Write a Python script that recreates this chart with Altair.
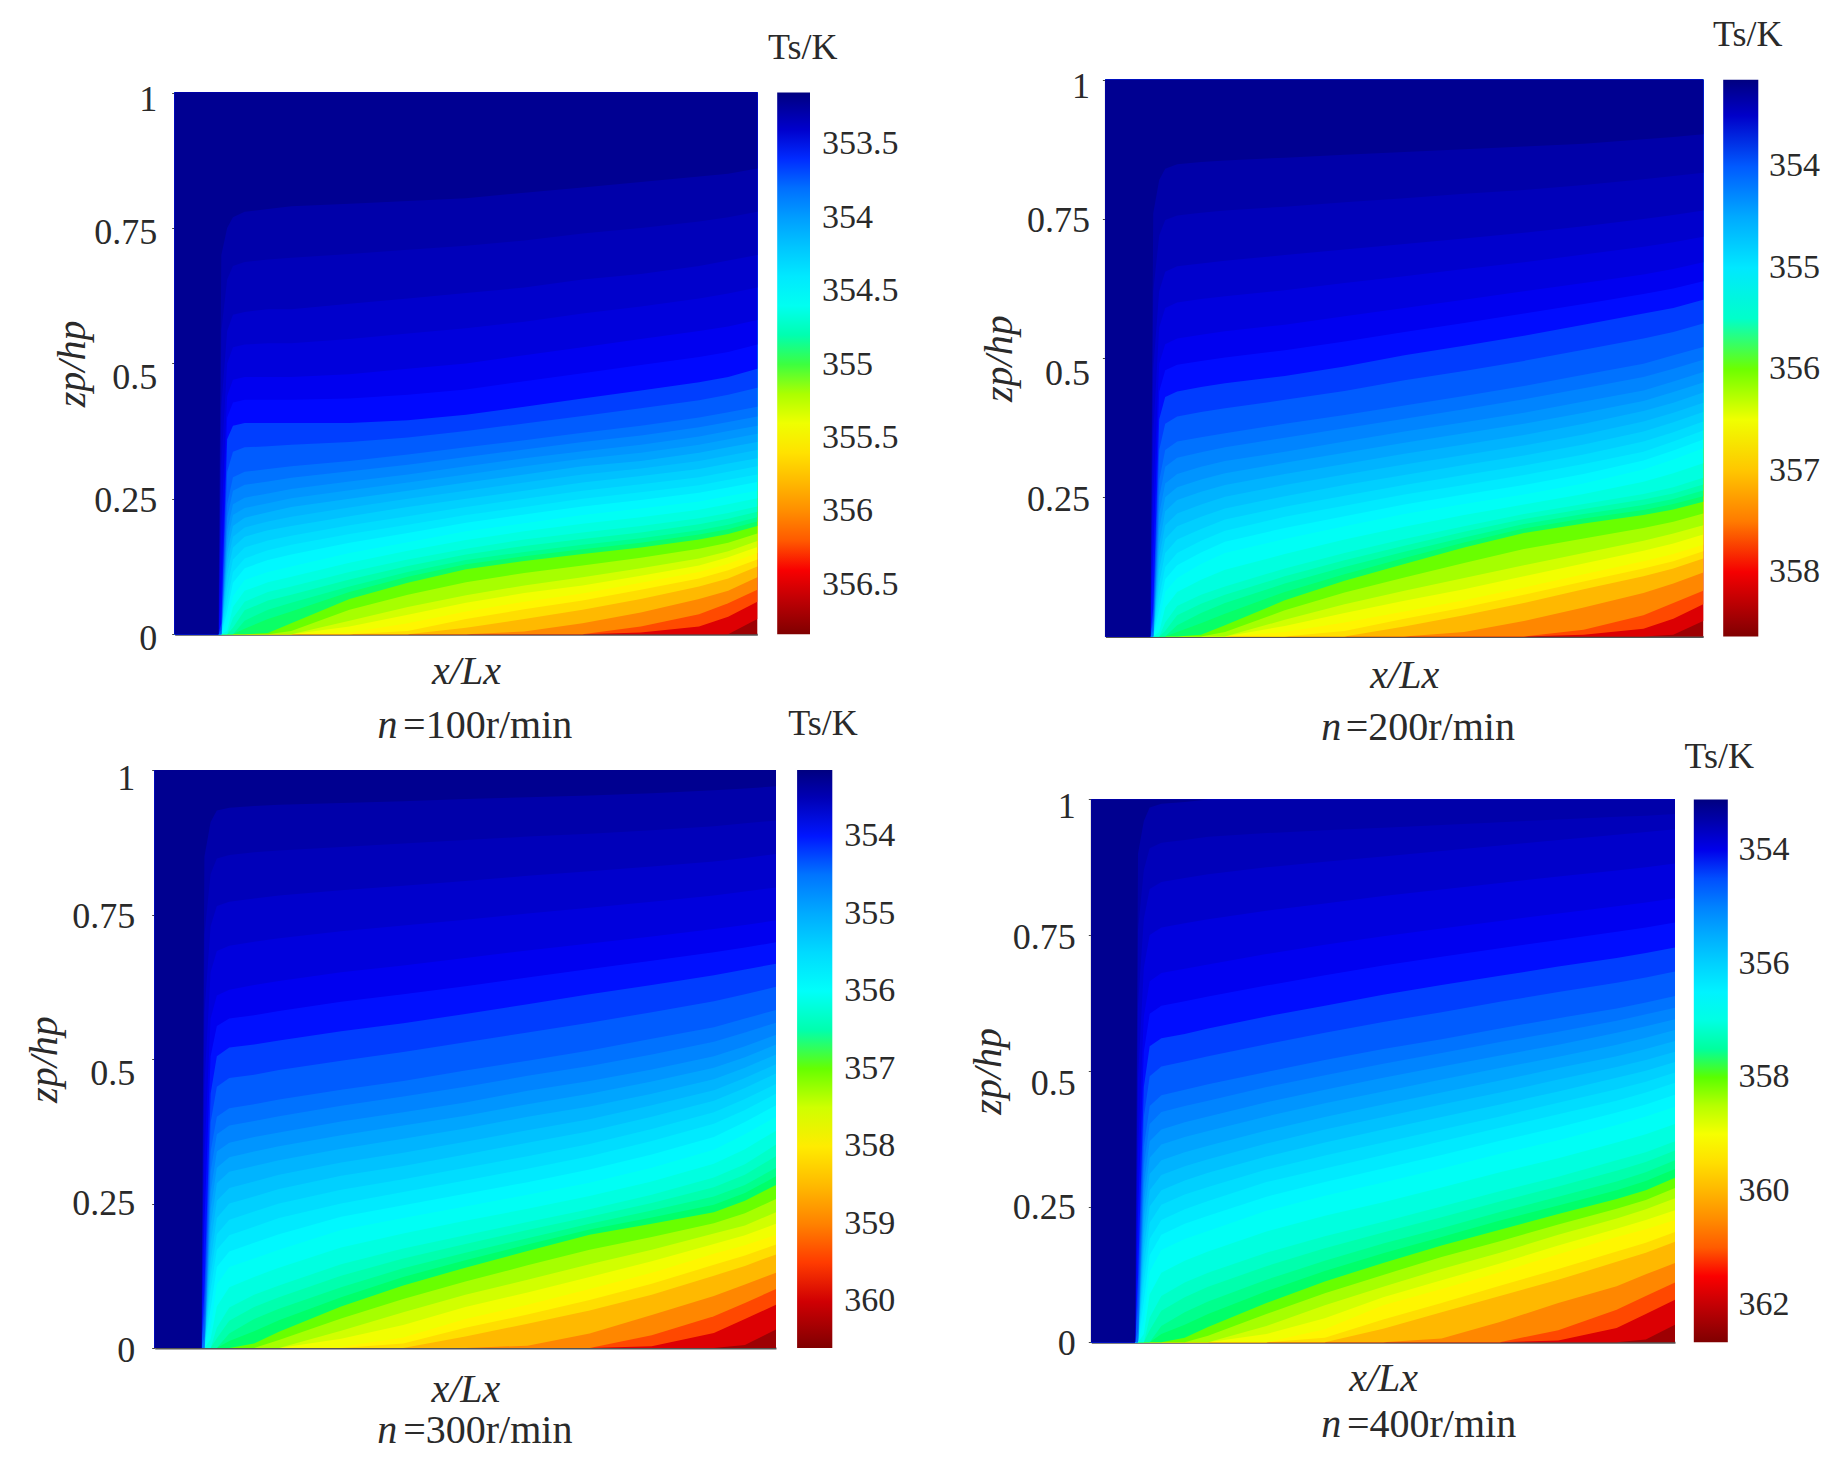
import altair as alt
import pandas as pd

FONT = "Liberation Serif"
X_READ = [0.08, 0.09, 0.10, 0.12, 0.16, 0.2, 0.3, 0.4, 0.5, 0.6, 0.7, 0.8, 0.9, 0.95, 1.0]
X_STRIP = [0.0, 0.075]
STOP_FRACTIONS = [0, 0.11, 0.375, 0.49, 0.51, 0.625, 0.875, 1]
STOP_COLORS = ["#000080", "#0000ff", "#00ffff", "#00ff6a", "#55ff00", "#ffff00", "#ff0000", "#800000"]

# Band temperatures hottest to coldest; Z tables: height (per mille of zp/hp) of the lower edge of
# each band after the first, read from the picture along X_READ.
P1_T = [356.72,356.49,356.25,356.02,355.80,355.62,355.50,355.41,355.31,355.19,355.06,354.96,354.88,354.81,354.73,354.66,354.58,354.49,354.40,354.33,354.26,354.18,354.11,354.03,353.96,353.89,353.81,353.73,353.64,353.56,353.51,353.45,353.40,353.34,353.29,353.21]
P1_Z = [
 [0,0,0,0,0,0,0,0,0,0,0,0,0,0,28],
 [0,0,0,0,0,0,0,0,0,0,0,3,14,32,60],
 [0,0,0,0,0,0,0,0,0,0,0,14,37,57,82],
 [0,0,0,0,0,0,0,0,0,5,20,40,65,80,105],
 [0,0,0,0,0,0,0,0,12,28,45,65,88,103,125],
 [0,0,0,0,0,0,0,6,28,46,62,82,103,118,138],
 [0,0,0,0,0,0,3,20,42,60,75,95,115,130,150],
 [0,0,0,0,0,0,14,36,58,76,90,108,127,142,161],
 [0,0,0,0,0,0,25,50,72,90,105,122,140,153,172],
 [0,0,0,0,0,6,45,73,96,113,127,141,158,169,186],
 [0,0,0,0,2,20,65,95,120,135,148,160,175,185,200],
 [0,0,0,10,28,42,78,106,129,144,157,169,184,194,208],
 [0,0,0,25,45,58,88,115,137,152,165,177,192,202,216],
 [0,0,12,44,62,73,101,126,147,163,176,188,203,213,226],
 [0,0,30,60,78,88,115,138,158,175,188,200,214,224,236],
 [0,6,50,80,96,106,132,154,174,190,204,216,230,240,251],
 [0,20,70,100,115,125,150,170,190,205,220,232,245,255,265],
 [0,42,95,122,137,147,169,187,206,221,236,248,261,271,281],
 [0,60,115,140,155,165,185,202,220,235,250,262,275,285,295],
 [0,85,138,160,173,182,201,218,235,250,265,277,290,300,310],
 [0,110,160,180,192,200,218,235,250,265,280,292,305,315,325],
 [0,130,180,197,208,217,234,250,265,280,295,306,320,330,340],
 [0,150,200,215,225,235,250,265,280,295,310,320,335,345,355],
 [0,170,220,233,242,251,266,280,295,310,324,335,350,360,370],
 [0,190,240,252,260,268,282,295,310,325,338,350,365,375,385],
 [0,215,265,276,282,289,301,313,327,341,355,367,382,392,402],
 [0,240,290,300,305,310,320,332,345,358,372,385,400,410,420],
 [8,300,337,345,347,350,355,363,375,389,403,417,432,442,455],
 [20,360,385,390,390,390,390,395,405,420,435,450,465,475,490],
 [90,400,428,433,433,433,435,442,452,467,482,497,512,521,535],
 [200,440,470,475,475,475,480,490,500,515,530,545,560,568,580],
 [310,500,530,535,537,537,545,555,565,577,592,605,620,629,640],
 [420,560,590,595,600,600,610,620,630,640,655,665,680,690,700],
 [560,655,680,687,692,695,702,710,717,727,740,750,762,770,780],
 [700,750,770,780,785,790,795,800,805,815,825,835,845,850,860],
]
P2_T = [358.47,358.13,357.77,357.43,357.10,356.82,356.65,356.51,356.36,356.18,355.99,355.84,355.73,355.62,355.51,355.40,355.27,355.14,355.01,354.90,354.79,354.68,354.57,354.46,354.35,354.24,354.13,354.01,353.87,353.76,353.68,353.60,353.52,353.43,353.35,353.23]
P2_Z = [
 [0,0,0,0,0,0,0,0,0,0,0,0,0,3,28],
 [0,0,0,0,0,0,0,0,0,0,0,3,14,32,58],
 [0,0,0,0,0,0,0,0,0,0,0,12,38,60,82],
 [0,0,0,0,0,0,0,0,0,8,28,52,78,95,115],
 [0,0,0,0,0,0,0,0,18,38,60,85,108,122,140],
 [0,0,0,0,0,0,0,10,32,52,75,99,122,135,153],
 [0,0,0,0,0,0,8,25,45,65,88,112,135,148,165],
 [0,0,0,0,0,0,19,42,64,85,108,131,154,167,183],
 [0,0,0,0,0,0,30,58,82,105,128,150,172,185,200],
 [0,0,0,0,0,8,47,79,106,132,157,176,195,206,221],
 [0,0,0,0,3,20,65,100,130,160,186,203,218,228,242],
 [0,0,0,8,24,41,80,112,141,169,194,212,227,238,252],
 [0,0,0,20,42,60,95,125,152,178,202,220,236,247,262],
 [0,0,10,38,59,75,108,137,163,188,211,229,246,257,273],
 [0,0,25,55,75,90,122,150,175,198,220,238,256,268,285],
 [0,8,52,80,102,120,148,174,197,218,237,256,278,293,311],
 [0,25,80,105,130,150,175,198,220,238,255,275,300,318,338],
 [0,48,103,128,151,170,195,216,237,255,272,292,316,334,354],
 [0,70,125,150,172,190,215,235,255,272,290,310,332,350,370],
 [0,95,150,174,193,210,233,253,272,290,307,327,350,367,386],
 [0,120,175,198,215,230,252,272,290,308,325,345,368,385,403],
 [0,142,200,221,237,251,272,291,309,326,343,363,386,402,420],
 [0,165,225,245,260,272,292,310,328,345,362,382,405,420,438],
 [0,192,250,268,282,293,312,330,348,365,382,402,423,439,456],
 [0,220,275,292,305,315,332,350,368,385,402,422,442,458,475],
 [0,250,305,321,331,340,357,374,391,408,426,446,466,481,497],
 [10,280,335,350,358,365,382,398,415,432,450,470,490,505,520],
 [28,335,382,395,403,410,425,441,460,477,495,515,535,547,562],
 [50,390,430,440,448,455,468,485,505,522,540,560,580,590,605],
 [150,440,478,488,495,501,514,530,547,563,580,597,615,625,638],
 [250,490,525,535,542,548,560,575,590,605,620,635,650,660,672],
 [365,555,590,600,606,611,622,635,647,660,672,686,700,708,718],
 [480,620,655,665,670,675,685,695,705,715,725,737,750,757,765],
 [620,720,748,756,761,765,772,780,787,795,802,811,821,827,833],
 [760,820,840,848,852,855,860,865,870,875,880,885,893,897,902],
]
P3_T = [360.38,359.91,359.43,358.96,358.51,358.14,357.90,357.71,357.51,357.27,357.01,356.80,356.65,356.50,356.35,356.20,356.04,355.85,355.68,355.53,355.39,355.24,355.09,354.94,354.79,354.64,354.49,354.32,354.14,353.99,353.88,353.76,353.65,353.54,353.43,353.26]
P3_Z = [
 [0,0,0,0,0,0,0,0,0,0,0,0,0,5,32],
 [0,0,0,0,0,0,0,0,0,0,0,3,26,50,75],
 [0,0,0,0,0,0,0,0,0,0,0,22,55,78,102],
 [0,0,0,0,0,0,0,0,0,4,25,57,90,110,130],
 [0,0,0,0,0,0,0,0,20,42,65,92,125,142,162],
 [0,0,0,0,0,0,0,8,35,58,83,111,144,160,179],
 [0,0,0,0,0,0,2,18,50,75,102,130,163,178,196],
 [0,0,0,0,0,0,16,40,71,96,123,150,180,195,215],
 [0,0,0,0,0,0,30,62,92,118,145,170,198,212,235],
 [0,0,0,0,0,14,51,85,115,143,170,192,216,233,258],
 [0,0,0,0,8,28,72,108,139,168,196,215,235,255,282],
 [0,0,0,12,29,48,88,123,152,179,205,226,248,268,297],
 [0,0,0,25,50,68,105,138,165,190,215,238,262,282,312],
 [0,0,17,47,71,88,125,155,180,204,227,251,278,300,332],
 [0,0,35,70,92,108,145,172,195,218,240,265,295,318,352],
 [0,15,72,105,123,139,174,198,220,241,263,288,319,344,376],
 [0,35,110,140,155,170,204,225,245,265,286,312,343,370,400],
 [0,68,140,167,182,197,227,247,267,287,309,335,365,391,420],
 [0,100,170,195,210,225,250,270,290,310,332,358,388,412,440],
 [0,125,197,222,236,250,274,292,312,332,353,379,408,431,457],
 [0,150,225,250,262,275,298,315,335,355,375,400,428,450,475],
 [0,180,255,277,288,300,321,338,357,377,396,420,446,467,491],
 [0,210,285,305,315,325,345,362,380,400,418,440,465,485,508],
 [0,240,312,330,340,349,368,385,402,422,440,461,485,503,525],
 [0,270,340,355,365,373,392,408,425,445,462,482,505,522,542],
 [0,305,370,385,393,401,419,435,452,471,488,508,530,546,563],
 [20,340,400,415,422,430,447,462,480,497,515,535,555,570,585],
 [60,390,452,467,473,481,497,512,529,546,563,581,600,612,625],
 [100,440,505,520,525,532,548,562,578,595,612,628,645,655,665],
 [215,505,557,570,576,583,599,612,626,641,656,670,685,693,702],
 [330,570,610,620,628,635,650,662,675,688,700,712,725,732,740],
 [455,650,687,696,703,709,721,731,741,752,762,772,783,790,797],
 [580,730,765,772,778,783,792,800,808,817,825,833,842,848,855],
 [715,820,847,853,858,861,867,873,879,885,890,896,903,908,913],
 [850,910,930,935,938,940,943,946,950,953,956,960,965,968,972],
]
P4_T = [362.37,361.78,361.16,360.56,359.99,359.51,359.20,358.96,358.70,358.39,358.05,357.79,357.60,357.41,357.22,357.03,356.81,356.57,356.36,356.17,355.98,355.78,355.59,355.40,355.21,355.02,354.83,354.61,354.38,354.18,354.04,353.90,353.75,353.61,353.47,353.25]
P4_Z = [
 [0,0,0,0,0,0,0,0,0,0,0,0,0,5,32],
 [0,0,0,0,0,0,0,0,0,0,0,3,26,52,78],
 [0,0,0,0,0,0,0,0,0,0,0,22,60,85,110],
 [0,0,0,0,0,0,0,0,0,7,37,72,103,125,146],
 [0,0,0,0,0,0,0,0,25,55,85,115,148,165,185],
 [0,0,0,0,0,0,0,8,42,72,104,135,167,183,203],
 [0,0,0,0,0,0,0,24,68,98,129,162,194,208,225],
 [0,0,0,0,0,0,15,44,83,114,145,178,209,225,243],
 [0,0,0,0,0,0,30,68,102,135,165,198,228,245,265],
 [0,0,0,0,0,12,52,90,124,157,186,217,246,262,284],
 [0,0,0,0,8,28,72,112,146,178,207,236,264,280,303],
 [0,0,0,15,32,52,94,131,164,194,224,252,280,297,319],
 [0,0,0,30,55,75,115,150,182,210,240,268,296,313,335],
 [0,0,22,58,83,102,140,173,202,230,259,287,316,332,353],
 [0,0,45,85,110,128,165,195,222,250,278,305,335,350,370],
 [0,15,88,128,150,167,204,233,258,285,313,339,368,383,402],
 [0,40,130,170,190,205,242,270,294,320,347,372,400,416,434],
 [0,75,160,198,218,233,268,295,320,345,371,396,423,438,456],
 [0,110,190,225,245,260,295,320,345,370,395,420,445,460,478],
 [0,140,220,253,272,286,318,344,368,392,416,441,466,480,497],
 [0,170,250,280,298,312,342,368,392,415,438,462,487,500,516],
 [0,200,280,308,324,337,366,392,415,438,460,484,507,520,535],
 [0,230,310,335,350,362,390,415,438,460,482,505,527,540,555],
 [0,260,340,364,378,389,416,440,462,484,505,526,548,561,575],
 [0,290,370,392,405,416,442,465,487,508,528,548,570,582,595],
 [0,325,402,424,435,445,470,492,513,533,553,572,592,604,616],
 [20,360,435,455,465,475,498,520,540,558,578,597,615,626,638],
 [70,415,490,508,517,527,549,570,590,608,627,645,662,672,683],
 [120,470,545,560,568,578,600,620,640,658,675,692,708,717,727],
 [235,535,605,620,628,637,657,676,694,710,726,741,756,764,773],
 [350,600,665,680,688,696,715,732,748,762,776,790,803,810,818],
 [485,690,750,764,772,779,795,808,822,834,846,858,869,875,882],
 [620,780,835,848,855,862,875,885,895,905,915,925,935,940,945],
 [760,870,910,920,925,931,938,943,948,953,958,963,968,970,973],
 [900,960,985,992,995,1000,1000,1000,1000,1000,1000,1000,1000,1000,1000],
]

PANELS = [
 dict(T=P1_T, Z=P1_Z, xr=[174.7,757.3], yr=[634.2,92.6], cb=[777.2,810.0], t=[353.15,356.835],
      ticks=[0,.25,.5,.75,1], shift=[4,2,14,4,7], legend=[353.5,354,354.5,355,355.5,356,356.5],
      n="=100r/min", nx=[.348,.392], nz=-.169, ts=[1.078,1.082], pad=18, tx=102, ty=37.5, lo=12),
 dict(T=P2_T, Z=P2_Z, xr=[1105.4,1703.2], yr=[636.5,79.7], cb=[1723.2,1758.3], t=[353.145,358.636],
      ticks=[.25,.5,.75,1], shift=[2,15,2,7], legend=[354,355,356,357,358],
      n="=200r/min", nx=[.361,.402], nz=-.164, ts=[1.0745,1.08], pad=16, tx=106, ty=38.7, lo=10.6),
 dict(T=P3_T, Z=P3_Z, xr=[154.7,776.0], yr=[1348.0,770.1], cb=[797.1,832.3], t=[353.15,360.6],
      ticks=[0,.25,.5,.75,1], shift=[2,0,14,2,8], legend=[354,355,356,357,358,359,360],
      n="=300r/min", nx=[.358,.40], nz=-.144, ts=[1.0755,1.079], pad=20, tx=110, ty=41, lo=12),
 dict(T=P4_T, Z=P4_Z, xr=[1091.3,1675.0], yr=[1342.2,799.4], cb=[1693.8,1727.8], t=[353.11,362.66],
      ticks=[0,.25,.5,.75,1], shift=[1,1,13,2,7], legend=[354,356,358,360,362],
      n="=400r/min", nx=[.394,.438], nz=-.153, ts=[1.076,1.078], pad=16, tx=103, ty=36.3, lo=10.6),
]

W, H = 1822, 1457
OFF = 8


def panel_chart(p):
    zrows = [[0] * len(X_READ)] + p["Z"]
    rows = []
    for band, (temp, zs) in enumerate(zip(p["T"], zrows)):
        for x in X_STRIP:
            rows.append(dict(x=x, z=0.0, top=1.0, T=temp, band=band))
        for x, z in zip(X_READ, zs):
            rows.append(dict(x=x, z=z / 1000, top=1.0, T=temp, band=band))
    df = pd.DataFrame(rows)

    xs = alt.Scale(domain=[0, 1], range=[p["xr"][0] - OFF, p["xr"][1] - OFF])
    ys = alt.Scale(domain=[0, 1], range=[p["yr"][0] - OFF, p["yr"][1] - OFF])
    lo, hi = p["t"]
    cs = alt.Scale(domain=[lo + f * (hi - lo) for f in reversed(STOP_FRACTIONS)],
                   range=list(reversed(STOP_COLORS)), clamp=True)
    legend = alt.Legend(
        title=None, orient="none", direction="vertical", values=p["legend"], format="~g",
        legendX=p["cb"][0] - OFF, legendY=p["yr"][1] - OFF,
        gradientLength=p["yr"][0] - p["yr"][1], gradientThickness=p["cb"][1] - p["cb"][0],
        gradientStrokeWidth=0, labelFont=FONT, labelFontSize=34, labelColor="#2a2a2a",
        labelOffset=p["lo"], labelOverlap=False, padding=0, labelAlign="left",
    )
    shift = "0"
    for v, s in zip(p["ticks"], p["shift"]):
        shift = f"datum.value==={v}?{s}:({shift})"
    y_axis = alt.Axis(
        values=p["ticks"], format=".2~f", orient="left", offset=-(p["xr"][0] - OFF),
        tickSize=3, tickColor="#444", domainColor="#777", domainWidth=2,
        labelFont=FONT, labelFontSize=36, labelColor="#2a2a2a", labelPadding=p["pad"] - 3,
        labelOffset=alt.expr(shift), grid=False, title="zp/hp", titleFont=FONT, titleFontSize=40,
        titleFontStyle="italic", titleFontWeight="normal", titleColor="#2a2a2a",
        titleX=-p["tx"], titleBaseline="middle",
    )
    x_axis = alt.Axis(
        labels=False, ticks=False, grid=False, orient="bottom", offset=(p["yr"][0] - OFF) - H,
        domainColor="#555", domainWidth=2, title="x/Lx", titleFont=FONT, titleFontSize=40,
        titleFontStyle="italic", titleFontWeight="normal", titleColor="#2a2a2a",
        titleY=p["ty"], titleBaseline="middle",
    )
    enc_x = alt.X("x:Q", scale=xs, axis=x_axis)
    enc_y = alt.Y("z:Q", scale=ys, axis=y_axis)
    area = alt.Chart(df).mark_area(interpolate="linear").encode(
        x=enc_x,
        y=enc_y,
        y2="top:Q",
        color=alt.Color("T:Q", scale=cs, legend=legend),
        detail="band:O",
    )
    notes = pd.DataFrame([
        dict(x=p["nx"][0], z=p["nz"], label="n", style="italic"),
        dict(x=p["nx"][1], z=p["nz"], label=p["n"], style="normal"),
    ])
    note_marks = [
        alt.Chart(notes[notes["style"] == s]).mark_text(
            font=FONT, fontSize=40, fontStyle=s, align="left", baseline="middle", color="#2a2a2a"
        ).encode(x=enc_x, y=enc_y, text="label:N")
        for s in ["italic", "normal"]
    ]
    ts = alt.Chart(pd.DataFrame([dict(x=p["ts"][0], z=p["ts"][1], label="Ts/K")])).mark_text(
        font=FONT, fontSize=36, align="center", baseline="middle", color="#2a2a2a"
    ).encode(x=enc_x, y=enc_y, text="label:N")
    return alt.layer(area, *note_marks, ts)


chart = alt.layer(*[panel_chart(p) for p in PANELS]).resolve_scale(
    x="independent", y="independent", color="independent"
).resolve_axis(x="independent", y="independent").properties(
    width=W, height=H, padding=0, autosize=alt.AutoSizeParams(type="none")
).configure_view(stroke=None)

chart.save("out.html", embed_options={"renderer": "svg", "actions": False})
